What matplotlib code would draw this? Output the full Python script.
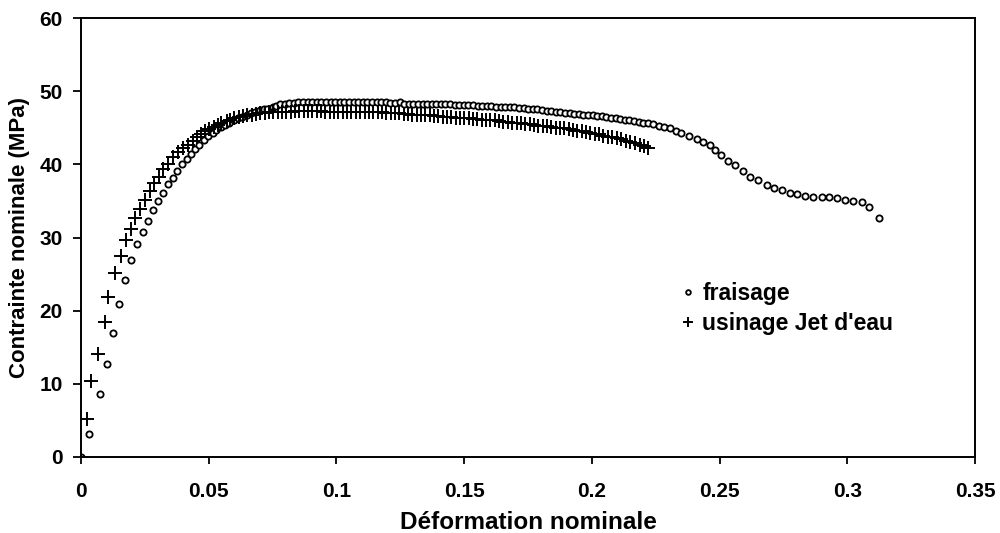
import matplotlib
matplotlib.use("Agg")
import matplotlib.pyplot as plt

# fraisage (circles)
fr_x = [0.0, 0.0031, 0.0074, 0.0102, 0.0124, 0.0148, 0.0172, 0.0196, 0.0220, 0.0244,
        0.0264, 0.0281, 0.0303, 0.0322, 0.0342, 0.0359, 0.0377, 0.0394, 0.0414, 0.0429,
        0.0446, 0.0463, 0.0482, 0.0498, 0.0515, 0.0530, 0.0550, 0.0565, 0.0580, 0.0600,
        0.0615, 0.0630, 0.0650, 0.0665, 0.0680, 0.0700, 0.0715, 0.0730, 0.0750, 0.0765,
        0.0780, 0.0800, 0.0815, 0.0833, 0.0851, 0.0869, 0.0887, 0.0905, 0.0923, 0.0941,
        0.0959, 0.0977, 0.0995, 0.1013, 0.1031, 0.1049, 0.1067, 0.1085, 0.1103, 0.1121,
        0.1139, 0.1157, 0.1175, 0.1193, 0.1211, 0.1229, 0.1247, 0.1265, 0.1283, 0.1301,
        0.1319, 0.1337, 0.1355, 0.1373, 0.1391, 0.1409, 0.1427, 0.1445, 0.1463, 0.1481,
        0.1499, 0.1517, 0.1535, 0.1553, 0.1571, 0.1589, 0.1607, 0.1625, 0.1643, 0.1661,
        0.1679, 0.1697, 0.1715, 0.1733, 0.1751, 0.1769, 0.1787, 0.1805, 0.1823, 0.1841,
        0.1859, 0.1877, 0.1895, 0.1913, 0.1931, 0.1949, 0.1967, 0.1985, 0.2003, 0.2021,
        0.2039, 0.2057, 0.2075, 0.2093, 0.2111, 0.2129, 0.2147, 0.2165, 0.2183, 0.2201,
        0.2219, 0.2240, 0.2262, 0.2284, 0.2306, 0.2328, 0.2350, 0.2380, 0.2410, 0.2436,
        0.2462, 0.2484, 0.2505, 0.2534, 0.2560, 0.2590, 0.2619, 0.2652, 0.2684, 0.2713,
        0.2743, 0.2776, 0.2804, 0.2834, 0.2867, 0.2900, 0.2930, 0.2961, 0.2992, 0.3024,
        0.3056, 0.3086, 0.3123]
fr_y = [0.0, 3.1, 8.65, 12.7, 17.0, 20.9, 24.2, 26.9, 29.1, 30.8,
        32.3, 33.7, 35.0, 36.1, 37.3, 38.2, 39.1, 40.0, 40.7, 41.4,
        42.1, 42.7, 43.3, 43.9, 44.3, 44.7, 45.1, 45.4, 45.7, 46.0,
        46.3, 46.5, 46.8, 47.0, 47.2, 47.4, 47.5, 47.6, 47.8, 48.0,
        48.2, 48.3, 48.4, 48.4, 48.5, 48.5, 48.5, 48.5, 48.5, 48.5,
        48.5, 48.5, 48.5, 48.5, 48.5, 48.5, 48.5, 48.5, 48.5, 48.5,
        48.5, 48.5, 48.5, 48.5, 48.4, 48.4, 48.5, 48.3, 48.3, 48.3,
        48.3, 48.3, 48.3, 48.2, 48.2, 48.2, 48.2, 48.2, 48.1, 48.1,
        48.1, 48.1, 48.1, 48.0, 48.0, 48.0, 48.0, 47.9, 47.9, 47.9,
        47.8, 47.8, 47.7, 47.7, 47.6, 47.5, 47.5, 47.4, 47.3, 47.3,
        47.2, 47.1, 47.0, 47.0, 46.9, 46.9, 46.8, 46.8, 46.7, 46.6,
        46.6, 46.5, 46.4, 46.3, 46.2, 46.1, 46.0, 45.9, 45.8, 45.7,
        45.6, 45.5, 45.3, 45.1, 44.9, 44.6, 44.3, 43.9, 43.4, 43.0,
        42.6, 42.0, 41.3, 40.5, 39.9, 39.1, 38.3, 37.8, 37.2, 36.7,
        36.5, 36.1, 35.9, 35.7, 35.6, 35.6, 35.5, 35.4, 35.1, 35.0,
        34.8, 34.2, 32.7]

# usinage Jet d'eau (plus)
je_x = [0.0, 0.0022, 0.0040, 0.0068, 0.0094, 0.0107, 0.0133, 0.0157, 0.0175, 0.0196,
        0.0211, 0.0231, 0.0251, 0.0270, 0.0287, 0.0305, 0.0322, 0.0342, 0.0361, 0.0381,
        0.0400, 0.0420, 0.0439, 0.0455, 0.0470, 0.0487, 0.0500, 0.0520, 0.0535, 0.0550,
        0.0570, 0.0585, 0.0600, 0.0620, 0.0635, 0.0650, 0.0670, 0.0685, 0.0700, 0.0720,
        0.0735, 0.0750, 0.0770, 0.0787, 0.0804, 0.0821, 0.0838, 0.0855, 0.0872, 0.0889,
        0.0906, 0.0923, 0.0940, 0.0957, 0.0974, 0.0991, 0.1008, 0.1025, 0.1042, 0.1059,
        0.1076, 0.1093, 0.1110, 0.1127, 0.1144, 0.1161, 0.1178, 0.1195, 0.1212, 0.1229,
        0.1246, 0.1263, 0.1280, 0.1297, 0.1314, 0.1331, 0.1348, 0.1365, 0.1382, 0.1399,
        0.1416, 0.1433, 0.1450, 0.1467, 0.1484, 0.1501, 0.1518, 0.1535, 0.1552, 0.1569,
        0.1586, 0.1603, 0.1620, 0.1637, 0.1654, 0.1671, 0.1688, 0.1705, 0.1722, 0.1739,
        0.1756, 0.1773, 0.1790, 0.1807, 0.1824, 0.1841, 0.1858, 0.1875, 0.1892, 0.1909,
        0.1926, 0.1943, 0.1960, 0.1977, 0.1994, 0.2011, 0.2028, 0.2045, 0.2062, 0.2079,
        0.2097, 0.2115, 0.2133, 0.2151, 0.2169, 0.2187, 0.2205, 0.2221]
je_y = [0.0, 5.2, 10.4, 14.1, 18.4, 21.9, 25.1, 27.5, 29.6, 31.2,
        32.6, 33.9, 35.1, 36.4, 37.4, 38.3, 39.3, 40.1, 41.0, 41.7,
        42.2, 42.7, 43.2, 43.7, 44.1, 44.5, 44.8, 45.1, 45.4, 45.7,
        45.9, 46.1, 46.3, 46.5, 46.6, 46.7, 46.8, 46.9, 47.0, 47.0,
        47.1, 47.1, 47.2, 47.2, 47.2, 47.2, 47.3, 47.3, 47.3, 47.3,
        47.3, 47.3, 47.3, 47.2, 47.2, 47.2, 47.2, 47.2, 47.2, 47.2,
        47.2, 47.2, 47.2, 47.1, 47.1, 47.1, 47.1, 47.0, 47.0, 47.0,
        47.0, 46.9, 46.9, 46.8, 46.8, 46.7, 46.7, 46.7, 46.6, 46.6,
        46.5, 46.5, 46.5, 46.4, 46.4, 46.3, 46.3, 46.2, 46.2, 46.1,
        46.1, 46.0, 46.0, 45.9, 45.8, 45.8, 45.7, 45.6, 45.6, 45.5,
        45.5, 45.4, 45.3, 45.3, 45.2, 45.1, 45.0, 44.9, 44.9, 44.8,
        44.7, 44.6, 44.5, 44.4, 44.3, 44.2, 44.1, 43.9, 43.8, 43.7,
        43.6, 43.4, 43.2, 43.1, 42.9, 42.7, 42.5, 42.2]

x_ticks = [0, 0.05, 0.1, 0.15, 0.2, 0.25, 0.3, 0.35]
x_tick_labels = ["0", "0.05", "0.1", "0.15", "0.2", "0.25", "0.3", "0.35"]
y_ticks = [0, 10, 20, 30, 40, 50, 60]

plt.rcParams['font.family'] = ['Liberation Sans', 'DejaVu Sans']
plt.rcParams['font.weight'] = 'bold'

fig = plt.figure(figsize=(10, 5.33), dpi=100)
ax = fig.add_axes([0.081, 0.1426, 0.894, 0.8236])

ax.plot(fr_x, fr_y, linestyle='none', marker='o', markersize=4.5,
        markerfacecolor='white', markeredgecolor='black', markeredgewidth=1.3,
        label='fraisage')
ax.plot(je_x, je_y, linestyle='none', marker='+', markersize=10,
        color='black', markeredgewidth=1.4, label="usinage Jet d'eau")

ax.set_xlim(0, 0.35)
ax.set_ylim(0, 60)
ax.set_xticks(x_ticks)
ax.set_xticklabels(x_tick_labels)
ax.set_yticks(y_ticks)
ax.tick_params(direction='out', width=1.3, labelsize=15, top=False, right=False)
ax.tick_params(axis='x', length=5, pad=13)
ax.tick_params(axis='y', length=6, pad=7)
for lab in ax.get_xticklabels() + ax.get_yticklabels():
    lab.set_fontweight('bold')
for s in ax.spines.values():
    s.set_linewidth(1.4)

ax.set_xlabel('Déformation nominale', fontsize=17.5, fontweight='bold', labelpad=7)
ax.set_ylabel('Contrainte nominale (MPa)', fontsize=16, fontweight='bold', labelpad=7)

leg = ax.legend(loc='upper left', bbox_to_anchor=(0.655, 0.425), frameon=False,
                fontsize=16.5, handlelength=0.9, handletextpad=0.16, labelspacing=0.3,
                borderpad=0, markerscale=0.75)
for t in leg.get_texts():
    t.set_fontweight('bold')

fig.savefig('out.png', dpi=100)
